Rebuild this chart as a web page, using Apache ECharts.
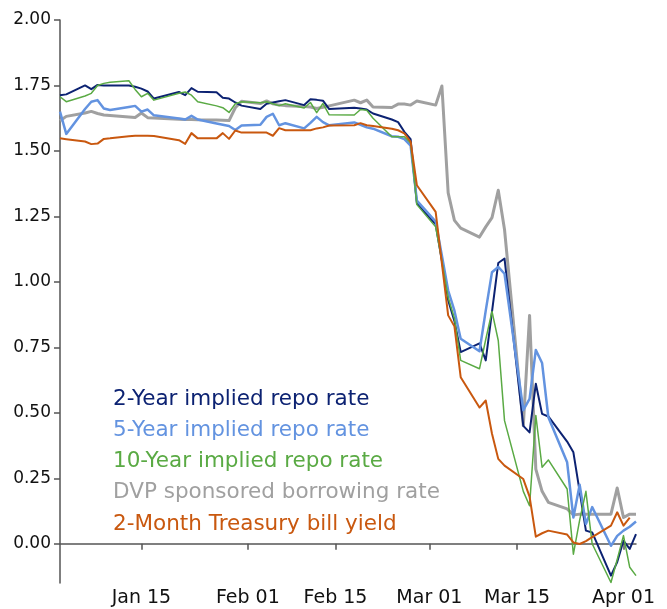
<!DOCTYPE html>
<html>
<head>
<meta charset="utf-8">
<script src="https://cdn.jsdelivr.net/npm/echarts@6/dist/echarts.min.js"></script>
<style>
html,body{margin:0;padding:0;background:#fff;}
#chart{width:667px;height:609px;}
</style>
</head>
<body>
<div id="chart"></div>
<script>
var dates = [
'2020-01-02','2020-01-03','2020-01-06','2020-01-07','2020-01-08','2020-01-09','2020-01-10',
'2020-01-13','2020-01-14','2020-01-15','2020-01-16','2020-01-17',
'2020-01-21','2020-01-22','2020-01-23','2020-01-24',
'2020-01-27','2020-01-28','2020-01-29','2020-01-30','2020-01-31',
'2020-02-03','2020-02-04','2020-02-05','2020-02-06','2020-02-07',
'2020-02-10','2020-02-11','2020-02-12','2020-02-13','2020-02-14',
'2020-02-18','2020-02-19','2020-02-20','2020-02-21',
'2020-02-24','2020-02-25','2020-02-26','2020-02-27','2020-02-28',
'2020-03-02','2020-03-03','2020-03-04','2020-03-05','2020-03-06',
'2020-03-09','2020-03-10','2020-03-11','2020-03-12','2020-03-13',
'2020-03-16','2020-03-17','2020-03-18','2020-03-19','2020-03-20',
'2020-03-23','2020-03-24','2020-03-25','2020-03-26','2020-03-27',
'2020-03-30','2020-03-31','2020-04-01','2020-04-02','2020-04-03'
];

var repo2y = [
1.713,1.716,1.750,1.736,1.752,1.750,1.750,
1.750,1.745,1.738,1.727,1.700,
1.725,1.713,1.740,1.726,
1.724,1.703,1.700,1.685,1.673,
1.660,1.680,1.685,1.690,1.694,
1.675,1.697,1.695,1.692,1.660,
1.665,1.662,1.658,1.643,
1.620,1.610,1.573,1.545,1.300,
1.220,1.080,0.930,0.850,0.732,
0.765,0.700,0.886,1.072,1.089,
0.450,0.425,0.611,0.496,0.486,
0.390,0.349,0.200,0.050,0.043,
-0.122,-0.070,0.011,-0.020,0.037
];

var repo5y = [
1.650,1.565,1.660,1.688,1.694,1.662,1.656,
1.668,1.672,1.650,1.658,1.636,
1.624,1.620,1.634,1.620,
1.605,1.600,1.595,1.580,1.597,
1.600,1.630,1.642,1.598,1.606,
1.586,1.607,1.630,1.610,1.598,
1.609,1.600,1.590,1.585,
1.556,1.554,1.545,1.520,1.310,
1.230,1.100,0.967,0.890,0.783,
0.735,0.890,1.037,1.057,1.031,
0.510,0.553,0.740,0.690,0.483,
0.311,0.100,0.225,0.075,0.140,
-0.008,0.030,0.050,0.065,0.085
];

var repo10y = [
1.707,1.688,1.710,1.720,1.750,1.758,1.762,
1.768,1.735,1.707,1.720,1.694,
1.720,1.725,1.713,1.688,
1.672,1.665,1.647,1.680,1.688,
1.684,1.688,1.680,1.673,1.680,
1.664,1.685,1.646,1.681,1.638,
1.637,1.658,1.655,1.625,
1.554,1.554,1.554,1.530,1.295,
1.210,1.080,0.940,0.860,0.700,
0.668,0.780,0.887,0.776,0.470,
0.200,0.145,0.490,0.292,0.320,
0.209,-0.040,0.090,0.200,0.000,
-0.148,-0.060,0.031,-0.090,-0.122
];

var dvpRate = [
1.615,1.632,1.645,1.651,1.643,1.637,1.635,
1.630,1.628,1.645,1.627,1.626,
1.621,1.620,1.620,1.619,
1.618,1.617,1.616,1.665,1.690,
1.681,1.691,1.680,1.675,1.673,
1.670,1.668,1.662,1.667,1.672,
1.694,1.684,1.694,1.668,
1.666,1.679,1.679,1.675,1.691,
1.675,1.748,1.340,1.235,1.205,
1.171,1.210,1.245,1.350,1.200,
0.451,0.872,0.285,0.200,0.158,
0.133,0.110,0.113,0.113,0.113,
0.113,0.213,0.100,0.113,0.113
];

var tbill2m = [
1.548,1.545,1.536,1.526,1.528,1.546,1.548,
1.556,1.558,1.558,1.558,1.557,
1.541,1.527,1.568,1.548,
1.548,1.568,1.546,1.578,1.570,
1.570,1.570,1.558,1.587,1.579,
1.579,1.579,1.586,1.590,1.597,
1.598,1.606,1.598,1.595,
1.585,1.579,1.567,1.535,1.369,
1.267,1.070,0.872,0.830,0.636,
0.520,0.547,0.420,0.324,0.298,
0.247,0.180,0.027,0.040,0.050,
0.035,0.005,-0.001,0.010,0.025,
0.069,0.120,0.069,0.100,null
];

var seriesNames = [
'2-Year implied repo rate',
'5-Year implied repo rate',
'10-Year implied repo rate',
'DVP sponsored borrowing rate',
'2-Month Treasury bill yield'
];
var seriesValues = [repo2y, repo5y, repo10y, dvpRate, tbill2m];
var seriesColors = ['#0c2272', '#6393e0', '#5aaa44', '#a0a0a0', '#c9580f'];
var seriesWidths = [2, 2.5, 1.5, 3, 2];

var xTickDates = ['2020-01-15','2020-02-01','2020-02-15','2020-03-01','2020-03-15','2020-04-01'];
var yTickValues = [0, 0.25, 0.5, 0.75, 1.0, 1.25, 1.5, 1.75, 2.0];
var monthNames = ['Jan','Feb','Mar','Apr','May','Jun','Jul','Aug','Sep','Oct','Nov','Dec'];

function ts(s){ var p = s.split('-'); return Date.UTC(+p[0], +p[1]-1, +p[2]); }

var xTicks = xTickDates.map(ts);
var FONT = 'DejaVu Sans';

var series = seriesNames.map(function(name, i){
  return {
    name: name,
    type: 'line',
    showSymbol: false,
    symbol: 'none',
    connectNulls: false,
    lineStyle: { color: seriesColors[i], width: seriesWidths[i], join: 'round' },
    itemStyle: { color: seriesColors[i] },
    z: [3,4,5,2,6][i],
    data: dates.map(function(d, j){ return [ts(d), seriesValues[i][j]]; })
  };
});

var chart = echarts.init(document.getElementById('chart'), null, {renderer: 'canvas'});
chart.setOption({
  animation: false,
  backgroundColor: '#ffffff',
  grid: { left: 60, right: 31, top: 20, bottom: 26, containLabel: false },
  legend: {
    orient: 'vertical',
    left: 103,
    top: 382,
    icon: 'none',
    itemWidth: 0,
    itemHeight: 24,
    itemGap: 7.3,
    selectedMode: false,
    data: seriesNames.map(function(n, i){
      return { name: n, textStyle: { color: seriesColors[i] } };
    }),
    textStyle: { fontFamily: FONT, fontSize: 21.5, lineHeight: 24 }
  },
  xAxis: {
    type: 'value',
    min: ts('2020-01-02'),
    max: ts('2020-04-03'),
    axisLine: { show: true, lineStyle: { color: '#555555', width: 1.5 } },
    axisTick: { show: true, interval: 0, length: 6, lineStyle: { color: '#555555', width: 1.5 }, customValues: xTicks },
    axisLabel: {
      customValues: xTicks,
      color: '#111111',
      fontFamily: FONT,
      fontSize: 19,
      margin: 6,
      formatter: function(v){
        var d = new Date(v);
        var dd = d.getUTCDate();
        return monthNames[d.getUTCMonth()] + ' ' + (dd < 10 ? '0' + dd : dd);
      }
    },
    splitLine: { show: false }
  },
  yAxis: {
    type: 'value',
    min: -0.15,
    max: 2.0,
    axisLine: { show: true, lineStyle: { color: '#555555', width: 1.5 } },
    axisTick: { show: true, interval: 0, length: 6, lineStyle: { color: '#555555', width: 1.5 }, customValues: yTickValues },
    axisLabel: {
      customValues: yTickValues,
      color: '#111111',
      fontFamily: FONT,
      fontSize: 17,
      margin: 9,
      formatter: function(v){ return v.toFixed(2); }
    },
    splitLine: { show: false }
  },
  series: series
});
</script>
</body>
</html>
